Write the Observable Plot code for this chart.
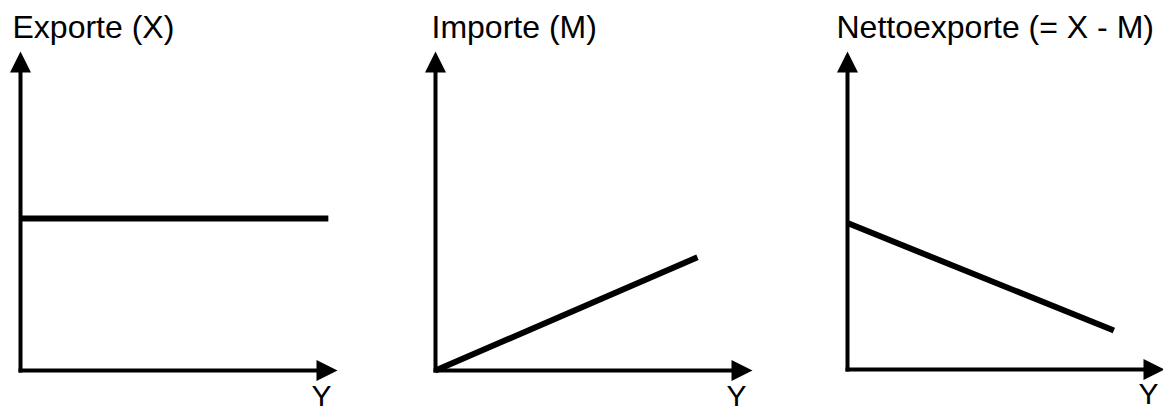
<!DOCTYPE html>
<html>
<head>
<meta charset="utf-8">
<script src="https://cdn.jsdelivr.net/npm/d3@7"></script>
<script src="https://cdn.jsdelivr.net/npm/@observablehq/plot@0.6"></script>
<style>
  html, body { margin: 0; padding: 0; background: #fff; overflow: hidden; }
  #chart { position: relative; width: 1163px; height: 412px; }
  #chart svg { position: absolute; top: 0; }
</style>
</head>
<body>
<div id="chart"></div>
<script>
// ---- data ----
const titles = ["Exporte (X)", "Importe (M)", "Nettoexporte (= X - M)"];
const axisLabel = "Y";
const exportsX = [0, 10.4];
const exportsY = [5.1, 5.1];
const importsX = [0, 8.85];
const importsY = [0, 3.8];
const netX = [0, 9.0];
const netY = [4.93, 1.31];
const axisMax = 10;

// ---- layout ----
const panelLeft = [0, 415, 827];
const titleDx = [-8, -4, -11];
const marginBottoms = [42, 42, 43];
const font = "'Liberation Sans', Arial, Helvetica, sans-serif";

const series = [
  exportsX.map((x, i) => ({x, y: exportsY[i]})),
  importsX.map((x, i) => ({x, y: importsY[i]})),
  netX.map((x, i) => ({x, y: netY[i]}))
];

// filled arrowheads as custom symbols (base at the point, tip outward)
const headUp = {draw(ctx, size) {
  const r = Math.sqrt(size / Math.PI);
  ctx.moveTo(-r, 0); ctx.lineTo(r, 0); ctx.lineTo(0, -2 * r); ctx.closePath();
}};
const headRight = {draw(ctx, size) {
  const r = Math.sqrt(size / Math.PI);
  ctx.moveTo(0, -r); ctx.lineTo(0, r); ctx.lineTo(2 * r, 0); ctx.closePath();
}};

const chart = document.getElementById("chart");
titles.forEach((title, i) => {
  const svg = Plot.plot({
    width: 340,
    height: 412,
    marginLeft: 20,
    marginRight: 24,
    marginTop: 72,
    marginBottom: marginBottoms[i],
    x: {domain: [0, axisMax], axis: null},
    y: {domain: [0, axisMax], axis: null},
    style: {overflow: "visible", fontFamily: font, background: "transparent"},
    marks: [
      // axes
      Plot.line([{x: 0, y: 0}, {x: axisMax, y: 0}], {x: "x", y: "y", stroke: "black", strokeWidth: 4, strokeLinecap: "square"}),
      Plot.line([{x: 0, y: 0}, {x: 0, y: axisMax}], {x: "x", y: "y", stroke: "black", strokeWidth: 4, strokeLinecap: "square"}),
      Plot.dot([{x: axisMax, y: 0}], {x: "x", y: "y", r: 10.5, symbol: headRight, fill: "black", stroke: "none"}),
      Plot.dot([{x: 0, y: axisMax}], {x: "x", y: "y", r: 10.5, symbol: headUp, fill: "black", stroke: "none"}),
      // function line
      Plot.line(series[i], {x: "x", y: "y", stroke: "black", strokeWidth: 6, strokeLinecap: "butt"}),
      // labels
      Plot.text([axisLabel], {x: axisMax, y: 0, text: d => d, dx: 5, dy: 35 - (marginBottoms[i] - 42), textAnchor: "middle", lineAnchor: "bottom", fontSize: 30, fill: "black"}),
      Plot.text([title], {x: 0, y: axisMax, text: d => d, dx: titleDx[i], dy: -35, textAnchor: "start", lineAnchor: "bottom", fontSize: 32, fill: "black"})
    ]
  });
  svg.style.left = panelLeft[i] + "px";
  chart.appendChild(svg);
});
</script>
</body>
</html>
